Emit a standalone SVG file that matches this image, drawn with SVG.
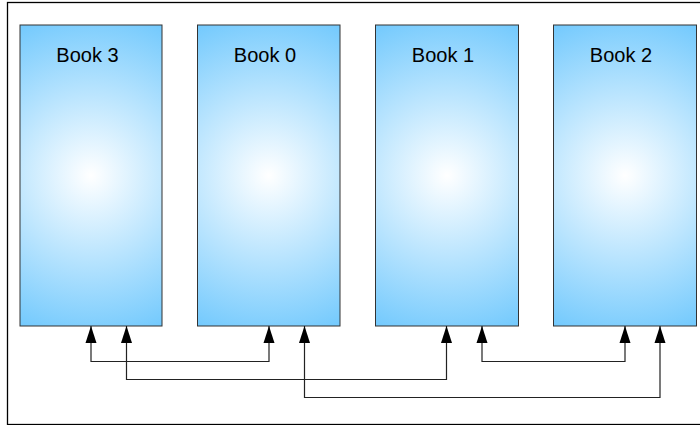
<svg xmlns="http://www.w3.org/2000/svg" width="700" height="425" viewBox="0 0 700 425">
<defs>
<radialGradient id="g" cx="0.5" cy="0.5" r="0.5" gradientUnits="objectBoundingBox" gradientTransform="translate(0.5 0.5) scale(2.35 1.11) translate(-0.5 -0.5)">
<stop offset="0" stop-color="#ffffff"/>
<stop offset="1" stop-color="#72c9fd"/>
</radialGradient>
<marker id="up" markerWidth="11" markerHeight="17" refX="5.5" refY="0" orient="0" markerUnits="userSpaceOnUse" viewBox="0 0 11 17" overflow="visible">
<path d="M0,17 L5.5,0 L11,17 Z" fill="#000"/>
</marker>
</defs>
<style>
.box{fill:url(#g);stroke:#333;stroke-width:1}
.lbl{font-family:"Liberation Sans",Arial,sans-serif;font-size:20px;fill:#000;text-anchor:middle}
.c{fill:none;stroke:#222;stroke-width:1.2;marker-start:url(#up);marker-end:url(#up)}
</style>
<rect x="7.5" y="2.5" width="700" height="422" fill="#fff" stroke="#000" stroke-width="1.3"/>
<g id="book3"><rect class="box" x="20" y="25" width="142" height="301"/><text class="lbl" x="87.5" y="62">Book 3</text></g>
<g id="book0"><rect class="box" x="197.5" y="25" width="142.5" height="301"/><text class="lbl" x="265" y="62">Book 0</text></g>
<g id="book1"><rect class="box" x="375.5" y="25" width="143" height="301"/><text class="lbl" x="443" y="62">Book 1</text></g>
<g id="book2"><rect class="box" x="553.5" y="25" width="143" height="301"/><text class="lbl" x="621" y="62">Book 2</text></g>
<g id="connectors">
<path class="c" d="M91,326 V361.5 H269 V326"/>
<path class="c" d="M126.5,326 V379.5 H446.5 V326"/>
<path class="c" d="M304.5,326 V397.5 H660 V326"/>
<path class="c" d="M482,326 V361.5 H625 V326"/>
</g>
</svg>
